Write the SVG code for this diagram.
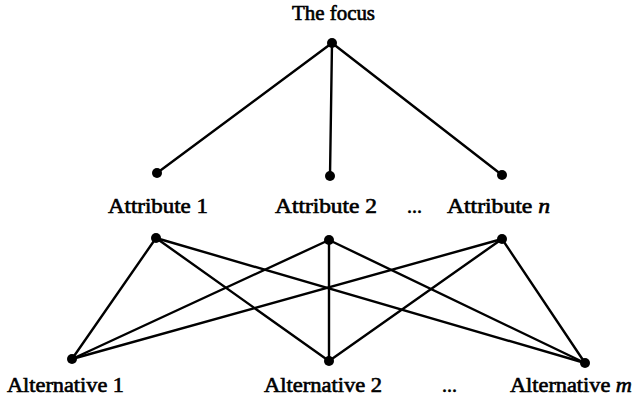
<svg xmlns="http://www.w3.org/2000/svg" width="632" height="399" viewBox="0 0 632 399">
<style>
.bg{fill:#ffffff}
.edge{stroke:#000;stroke-width:2.4;stroke-linecap:round;fill:none}
.dot{fill:#000}
.lbl{font-family:"Liberation Serif","Times New Roman",serif;font-size:20px;font-weight:normal;fill:#000;stroke:#000;stroke-width:0.6}
.it{font-style:italic}
</style>
<rect class="bg" x="0" y="0" width="632" height="399"/>
<g id="connectors">
<line class="edge" x1="332" y1="43" x2="157" y2="173"/>
<line class="edge" x1="332" y1="43" x2="330" y2="176"/>
<line class="edge" x1="332" y1="43" x2="502" y2="175"/>
<line class="edge" x1="156" y1="238" x2="72" y2="359"/>
<line class="edge" x1="156" y1="238" x2="329" y2="361"/>
<line class="edge" x1="156" y1="238" x2="585" y2="363"/>
<line class="edge" x1="329" y1="240" x2="72" y2="359"/>
<line class="edge" x1="329" y1="240" x2="329" y2="361"/>
<line class="edge" x1="329" y1="240" x2="585" y2="363"/>
<line class="edge" x1="502" y1="239" x2="72" y2="359"/>
<line class="edge" x1="502" y1="239" x2="329" y2="361"/>
<line class="edge" x1="502" y1="239" x2="585" y2="363"/>
</g>
<g id="focus">
<circle class="dot" cx="332" cy="43" r="5"/>
<text class="lbl" x="292" y="20" textLength="83" lengthAdjust="spacingAndGlyphs">The focus</text>
</g>
<g id="attribute1">
<circle class="dot" cx="157" cy="173" r="5"/>
<circle class="dot" cx="156" cy="238" r="5"/>
<text class="lbl" x="108" y="213" textLength="100" lengthAdjust="spacingAndGlyphs">Attribute 1</text>
</g>
<g id="attribute2">
<circle class="dot" cx="330" cy="176" r="5"/>
<circle class="dot" cx="329" cy="240" r="5"/>
<text class="lbl" x="275" y="213" textLength="102" lengthAdjust="spacingAndGlyphs">Attribute 2</text>
</g>
<g id="attribute-ellipsis">
<text class="lbl" x="407" y="213">...</text>
</g>
<g id="attributeN">
<circle class="dot" cx="502" cy="175" r="5"/>
<circle class="dot" cx="502" cy="239" r="5"/>
<text class="lbl" x="447" y="213" textLength="103" lengthAdjust="spacingAndGlyphs">Attribute <tspan class="it">n</tspan></text>
</g>
<g id="alternative1">
<circle class="dot" cx="72" cy="359" r="5"/>
<text class="lbl" x="7" y="392" textLength="117" lengthAdjust="spacingAndGlyphs">Alternative 1</text>
</g>
<g id="alternative2">
<circle class="dot" cx="329" cy="361" r="5"/>
<text class="lbl" x="264" y="392" textLength="118" lengthAdjust="spacingAndGlyphs">Alternative 2</text>
</g>
<g id="alternative-ellipsis">
<text class="lbl" x="442" y="392">...</text>
</g>
<g id="alternativeM">
<circle class="dot" cx="585" cy="363" r="5"/>
<text class="lbl" x="510" y="392" textLength="122" lengthAdjust="spacingAndGlyphs">Alternative <tspan class="it">m</tspan></text>
</g>
</svg>
